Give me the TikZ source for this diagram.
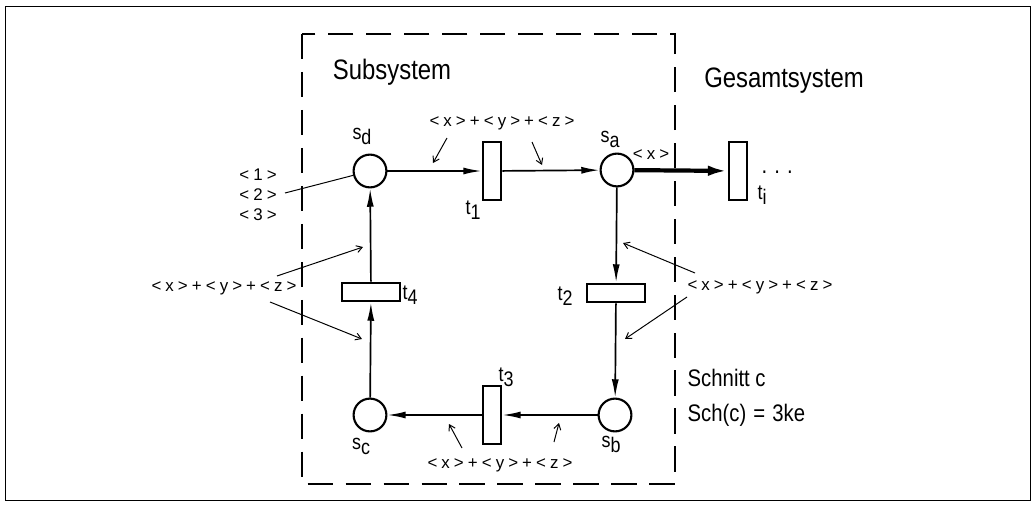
\documentclass[tikz,border=0pt]{standalone}
\usepackage{fontspec}
\setmainfont{Liberation Sans}[FakeStretch=0.85]
\newfontfamily\insfont{Liberation Sans}
\usetikzlibrary{arrows.meta}

% letter with a lowered index of the same size
\newcommand{\idx}[2]{#1\raisebox{-0.45ex}{#2}}
% gap between the marks of an inscription
\newcommand{\gp}{\hspace{2.9pt}}

\tikzset{
  place/.style={circle,draw,line width=1.5pt,minimum size=0.82cm,inner sep=0pt},
  vtrans/.style={rectangle,draw,line width=1.5pt,minimum width=0.47cm,minimum height=1.45cm,inner sep=0pt},
  htrans/.style={rectangle,draw,line width=1.5pt,minimum width=1.45cm,minimum height=0.47cm,inner sep=0pt},
  arc/.style={line width=1.2pt,-{Latex[length=13pt,width=5pt]}},
  bigarc/.style={line width=3pt,-{Latex[length=14pt,width=7.5pt]}},
  note/.style={line width=0.7pt,-{Straight Barb[length=4pt,width=5pt]}},
  lbl/.style={font=\fontsize{15}{17}\selectfont,inner sep=1pt},
  inscr/.style={font=\insfont\fontsize{12}{14}\selectfont,inner sep=1pt},
  title/.style={font=\fontsize{20}{24}\selectfont,inner sep=1pt},
  cuttext/.style={font=\fontsize{17}{20}\selectfont,inner sep=1pt,anchor=west},
}

\begin{document}
\begin{tikzpicture}[x=0.025cm,y=-0.025cm]
\useasboundingbox (0,0) rectangle (1035,507);
\draw[line width=0.7pt] (5,6) rectangle (1030,500);
% subsystem border
\draw[line width=2pt,dash pattern=on 18pt off 9pt] (302,34) rectangle (675,484);
\node[title] (sub) at (392,72) {Subsystem};
\node[title] (ges) at (784,81) {Gesamtsystem};

% places
\node[place] (sd) at (370,171) {};
\node[place] (sa) at (617,170) {};
\node[place] (sb) at (615,415) {};
\node[place] (sc) at (370,415) {};
% transitions
\node[vtrans] (t1) at (492,171) {};
\node[vtrans] (ti) at (738,171) {};
\node[htrans] (t2) at (616,293) {};
\node[vtrans] (t3) at (492,415) {};
\node[htrans] (t4) at (371,292) {};

\node[lbl] (lsd) at (362,136) {\idx{s}{d}};
\node[lbl] (lsa) at (610,139) {\idx{s}{a}};
\node[lbl] (lsb) at (611,444) {\idx{s}{b}};
\node[lbl] (lsc) at (361,446) {\idx{s}{c}};
\node[lbl] (lt1) at (473,210) {\idx{t}{1}};
\node[lbl] (lti) at (762,195) {\idx{t}{i}};
\node[lbl] (lt2) at (565,296) {\idx{t}{2}};
\node[lbl] (lt3) at (506,377) {\idx{t}{3}};
\node[lbl] (lt4) at (410,295) {\idx{t}{4}};
\node[lbl,anchor=base west,font=\fontsize{17}{20}\selectfont] (dots) at (760,173) {.\hspace{5pt}.\hspace{5pt}.};

% arcs
\draw[arc] (sd) -- (t1);
\draw[arc] (t1) -- (sa);
\draw[bigarc] (sa) -- (ti);
\draw[arc] (sa) -- (t2);
\draw[arc] (t2) -- (sb);
\draw[arc] (sb) -- (t3);
\draw[arc] (t3) -- (sc);
\draw[arc] (sc) -- (t4);
\draw[arc] (t4) -- (sd);

% inscriptions
\node[inscr] (wtop) at (502,123) {<\gp x\gp>\gp+\gp<\gp y\gp>\gp+\gp<\gp z\gp>};
\node[inscr] (wx) at (651,155) {<\gp x\gp>};
\node[inscr] (wleft) at (224,288) {<\gp x\gp>\gp+\gp<\gp y\gp>\gp+\gp<\gp z\gp>};
\node[inscr] (wright) at (760,287) {<\gp x\gp>\gp+\gp<\gp y\gp>\gp+\gp<\gp z\gp>};
\node[inscr] (wbot) at (500,465) {<\gp x\gp>\gp+\gp<\gp y\gp>\gp+\gp<\gp z\gp>};
\node[inscr,align=center,font=\insfont\fontsize{12}{14.2}\selectfont] (marks) at (258,195) {<\gp 1\gp>\\<\gp 2\gp>\\<\gp 3\gp>};
\coordinate (mk) at (285,193);
\draw[line width=0.7pt] (mk) -- (sd);

\coordinate (a1) at (447,138); \coordinate (b1) at (433,163);
\coordinate (a2) at (532,142); \coordinate (b2) at (542,165);
\coordinate (a3) at (277,276); \coordinate (b3) at (363,247);
\coordinate (a4) at (270,302); \coordinate (b4) at (362,339);
\coordinate (a5) at (695,273); \coordinate (b5) at (623,243);
\coordinate (a6) at (687,297); \coordinate (b6) at (625,339);
\coordinate (a7) at (462,448); \coordinate (b7) at (449,424);
\coordinate (a8) at (554,442); \coordinate (b8) at (559,423);
\foreach \i in {1,...,8} \draw[note] (a\i) -- (b\i);

\node[cuttext] (cut) at (686,378) {Schnitt c};
\node[cuttext] (sch) at (686,415) {Sch(c)\hspace{5pt}=\hspace{5pt}3ke};
\end{tikzpicture}
\end{document}
